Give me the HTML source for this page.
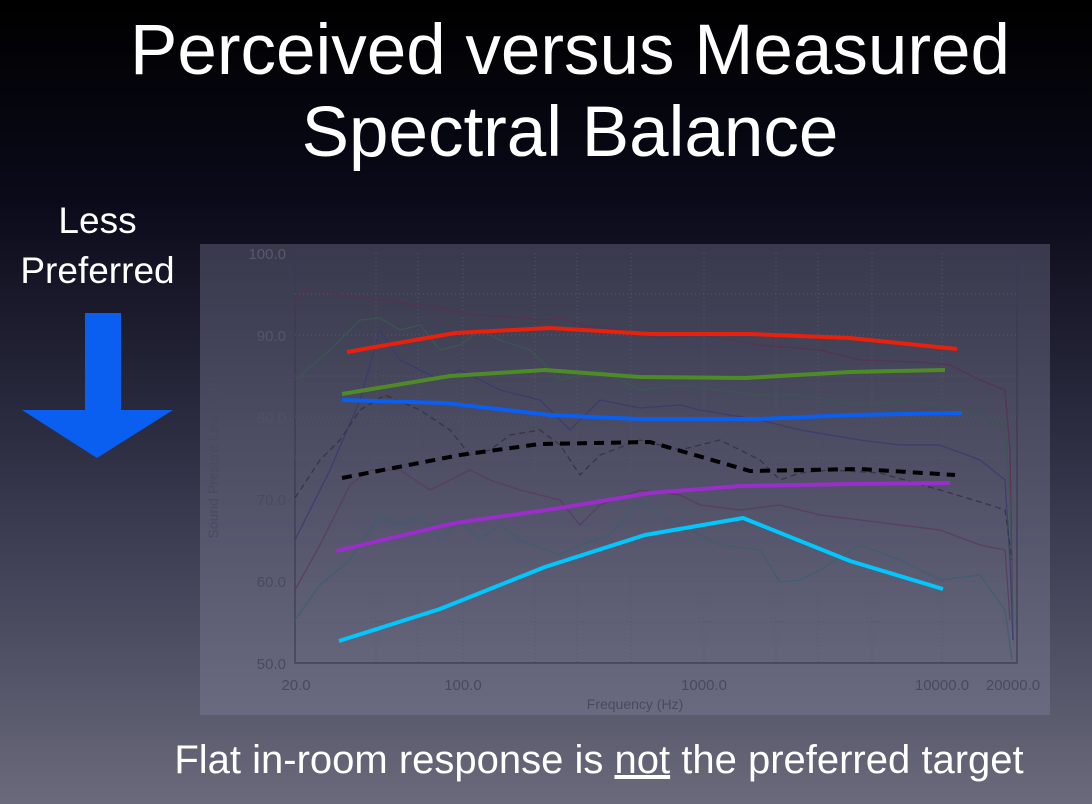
<!DOCTYPE html>
<html><head><style>
body{margin:0;width:1092px;height:804px;overflow:hidden;background:linear-gradient(#000 0%,#0a0a1a 25%,#3a3a50 65%,#6a6a7c 100%);font-family:"Liberation Sans",sans-serif;color:#fff;position:relative}
.t{position:absolute;left:0;width:1140px;text-align:center;font-size:71px;white-space:nowrap}
</style></head><body>
<div class="t" style="top:10px">Perceived versus Measured</div>
<div class="t" style="top:92px">Spectral Balance</div>
<div style="position:absolute;left:0;width:195px;top:196px;text-align:center;font-size:37px;line-height:50px">Less<br>Preferred</div>
<svg width="1092" height="804" style="position:absolute;left:0;top:0">
<polygon points="85,313 121,313 121,410 173,410 97,458 22,410 85,410" fill="#0a5ef0"/>
<rect x="200" y="244" width="850" height="471" fill="#8888a0" opacity="0.35"/>
<g stroke="#3a3a52" stroke-width="1.2" fill="none">
<path d="M295,253V663H1017V253Z"/>
</g>
<g stroke="#55556c" stroke-width="1" stroke-dasharray="1,3" fill="none">
<path d="M295,335H1017M295,417H1017M295,499H1017M295,581H1017M295,294H1017M295,376H1017M295,458H1017M295,540H1017M295,622H1017"/>
<path d="M463,253V663M704,253V663M942,253V663M376,253V663M418,253V663M535,253V663M577,253V663M631,253V663M776,253V663M818,253V663M872,253V663"/>
</g>
<g fill="none" stroke-width="1.3" opacity="0.8">
<path stroke="#5a3050" d="M295,305 L305,290 330,293 370,298 410,304 440,307 470,315 500,316 540,320 560,318 580,325 620,330 660,338 700,335 760,345 820,350 860,360 920,362 950,365 980,380 1005,390 1010,450 1013,640"/>
<path stroke="#3a5a50" d="M295,380 L330,350 360,320 380,318 400,330 420,325 440,350 460,345 480,330 500,340 530,350 560,380 600,370 640,390 680,385 720,390 760,395 800,395 860,405 900,400 940,405 980,415 1005,425 1010,500 1013,640"/>
<path stroke="#3a3a70" d="M295,540 L330,470 360,400 380,330 400,360 420,370 440,380 460,370 480,380 500,390 540,400 570,430 600,400 640,408 680,405 700,410 760,420 800,430 860,440 900,445 940,445 980,460 1005,480 1010,560 1013,640"/>
<path stroke="#303040" stroke-dasharray="6,4" d="M295,498 L320,460 340,440 360,410 385,395 420,410 450,430 470,455 490,450 510,435 540,430 560,445 580,475 600,455 640,440 680,450 720,440 760,460 780,480 800,473 830,470 880,473 940,490 990,505 1005,510 1012,560"/>
<path stroke="#5a3a60" d="M295,590 L320,545 350,485 370,470 400,470 430,490 450,480 470,470 490,480 520,490 560,500 580,525 600,505 640,490 680,495 700,505 740,510 780,505 820,515 860,520 900,525 940,530 980,545 1005,550 1010,620"/>
<path stroke="#3a6070" d="M295,620 L320,585 350,560 380,515 400,525 420,515 440,540 460,520 480,540 500,525 520,540 560,555 580,545 610,535 640,500 660,515 700,535 720,545 760,550 780,582 800,580 820,570 860,545 900,560 940,580 980,575 1005,610 1012,660"/>
</g>
<g font-size="15" fill="#4a4a5e" font-family="Liberation Sans,sans-serif">
<text x="286" y="259" text-anchor="end" fill="#58586c">100.0</text>
<text x="286" y="341" text-anchor="end" fill="#55556a">90.0</text>
<text x="286" y="423" text-anchor="end" fill="#505066">80.0</text>
<text x="286" y="505" text-anchor="end">70.0</text>
<text x="286" y="587" text-anchor="end">60.0</text>
<text x="286" y="669" text-anchor="end">50.0</text>
<text x="296" y="690" text-anchor="middle">20.0</text>
<text x="463" y="690" text-anchor="middle">100.0</text>
<text x="704" y="690" text-anchor="middle">1000.0</text>
<text x="942" y="690" text-anchor="middle">10000.0</text>
<text x="1013" y="690" text-anchor="middle">20000.0</text>
<text x="635" y="709" text-anchor="middle" font-size="14">Frequency (Hz)</text>
<text transform="translate(218,458) rotate(-90)" text-anchor="middle" font-size="14">Sound Presure Level (dB)</text>
</g>
<g fill="none" stroke-width="4" stroke-linejoin="round">
<path stroke="#e8200c" d="M347,352 L455,333 550,328 650,334 750,334 850,338 957,349"/>
<path stroke="#4f8a28" d="M342,394 L450,376 545,370 640,377 745,378 850,372 945,370"/>
<path stroke="#0a5ef0" d="M342,400 L445,403 550,415 640,419 760,419 850,415 962,413"/>
<path stroke="#000" stroke-dasharray="10,7" d="M342,478 L460,455 540,444 650,442 750,471 860,469 955,475"/>
<path stroke="#9a2ec8" d="M336,551 L455,523 560,508 650,493 740,486 850,484 950,483"/>
<path stroke="#00c8ff" d="M339,641 L440,609 545,567 645,535 743,518 850,561 943,589"/>
</g>
</svg>
<div style="position:absolute;left:0;width:1198px;top:738px;text-align:center;font-size:40px;white-space:nowrap">Flat in-room response is <u>not</u> the preferred target</div>
</body></html>
